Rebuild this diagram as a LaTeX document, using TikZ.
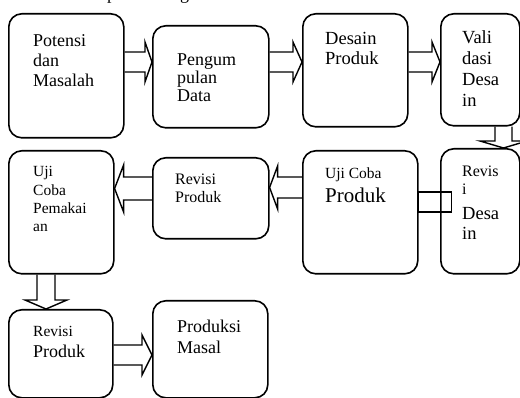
\documentclass[tikz,border=0pt]{standalone}
\usepackage{fontspec}
\setmainfont{Liberation Serif}
\usetikzlibrary{calc}
\begin{document}
\begin{tikzpicture}[
    x=1pt, y=-1pt,
    box/.style={draw, line width=1.6pt, rounded corners=13pt, anchor=north west, inner sep=0pt},
    txt/.style={anchor=north west, align=left, inner sep=0pt},
    blok/.style={draw, line width=1.4pt, line join=miter}
]
\useasboundingbox (0,0) rectangle (520,398);

% Judul (terpotong)
\node[anchor=base west, inner sep=0pt, font=\fontsize{18}{20}\selectfont] (judp) at (107,0) {p};
\node[anchor=base west, inner sep=0pt, font=\fontsize{18}{20}\selectfont] (judg) at (180,0) {g};

% Baris 1
\node[box, minimum width=115pt, minimum height=124pt] (pot) at (8,13) {};
\node[box, minimum width=116pt, minimum height=102pt] (peng) at (152,25) {};
\node[box, minimum width=105pt, minimum height=113pt] (des) at (302,13) {};
\node[box, minimum width=79pt, minimum height=112pt] (val) at (440,13) {};

\node[txt, font=\fontsize{18}{20}\selectfont] (potT) at (33,34.7) {Potensi\\dan\\Masalah};
\node[txt, font=\fontsize{18}{18}\selectfont] (pengT) at (177,53.1) {Pengum\\pulan\\Data};
\node[txt, font=\fontsize{18.5}{20}\selectfont] (desT) at (325,32.4) {Desain\\Produk};
\node[txt, font=\fontsize{18.5}{21}\selectfont] (valT) at (462,30.4) {Vali\\dasi\\Desa\\in};

% Baris 2
\node[box, minimum width=105pt, minimum height=123pt] (ucp) at (8,150) {};
\node[box, minimum width=116pt, minimum height=81pt] (rev2) at (152,157) {};
\node[box, minimum width=115pt, minimum height=123pt] (ucprod) at (302,150) {};
\node[box, minimum width=79pt, minimum height=125pt] (revd) at (440,148) {};

\node[txt, font=\fontsize{15.5}{18.3}\selectfont] (ucpT) at (33,166.4) {Uji\\Coba\\Pemakai\\an};
\node[txt, font=\fontsize{16}{18}\selectfont] (rev2T) at (175,174.1) {Revisi\\Produk};
\node[txt, font=\fontsize{15.5}{24}\selectfont] (ucprodT) at (325,167.4) {Uji Coba\\{\fontsize{21}{24}\selectfont Produk}};
\node[txt, font=\fontsize{16}{18}\selectfont] (revdT) at (462,166.1)
    {Revis\\i\\[7pt]{\fontsize{18.5}{20}\selectfont Desa}\\[2pt]{\fontsize{18.5}{20}\selectfont in}};

% Baris 3
\node[box, minimum width=104pt, minimum height=88pt] (rp3) at (8,309) {};
\node[box, minimum width=115pt, minimum height=97pt] (pm) at (152,300) {};

\node[txt, font=\fontsize{15.5}{21}\selectfont] (rp3T) at (33,326.4) {Revisi\\{\fontsize{18}{21}\selectfont Produk}};
\node[txt, font=\fontsize{18}{21}\selectfont] (pmT) at (177,319.7) {Produksi\\Masal};

% Panah ke kanan
\foreach \a/\b/\c/\s/\h/\l in {pot/peng/62/10/20/7, peng/des/62/10/20/9, des/val/62/10/20/8, rp3/pm/355/10/20/10} {
    \draw[blok] let \p1=(\a.east), \p2=(\b.west) in
        (\x1,{-\c pt+\s pt}) -- ({\x2-\l pt},{-\c pt+\s pt}) -- ({\x2-\l pt},{-\c pt+\h pt})
        -- (\x2,{-\c pt}) -- ({\x2-\l pt},{-\c pt-\h pt}) -- ({\x2-\l pt},{-\c pt-\s pt}) -- (\x1,{-\c pt-\s pt});
}

% Panah ke kiri
\foreach \a/\b/\c/\s/\h/\l in {rev2/ucp/188.5/11.5/23.5/9, ucprod/rev2/187.5/10.5/21.5/8} {
    \draw[blok] let \p1=(\a.west), \p2=(\b.east) in
        (\x1,{-\c pt+\s pt}) -- ({\x2+\l pt},{-\c pt+\s pt}) -- ({\x2+\l pt},{-\c pt+\h pt})
        -- (\x2,{-\c pt}) -- ({\x2+\l pt},{-\c pt-\h pt}) -- ({\x2+\l pt},{-\c pt-\s pt}) -- (\x1,{-\c pt-\s pt});
}

% Panah ke bawah
\foreach \a/\b/\c/\s/\h/\l in {val/revd/503.5/8.5/23.5/7, ucp/rp3/46/9/21/9} {
    \draw[blok] let \p1=(\a.south), \p2=(\b.north) in
        ({\c pt-\s pt},\y1) -- ({\c pt-\s pt},{\y2+\l pt}) -- ({\c pt-\h pt},{\y2+\l pt})
        -- ({\c pt},\y2) -- ({\c pt+\h pt},{\y2+\l pt}) -- ({\c pt+\s pt},{\y2+\l pt}) -- ({\c pt+\s pt},\y1);
}

% Penghubung tanpa kepala
\draw[blok] let \p1=(ucprod.east) in (\x1,-192pt) rectangle ({\x1+33pt},-212pt);

\end{tikzpicture}
\end{document}
